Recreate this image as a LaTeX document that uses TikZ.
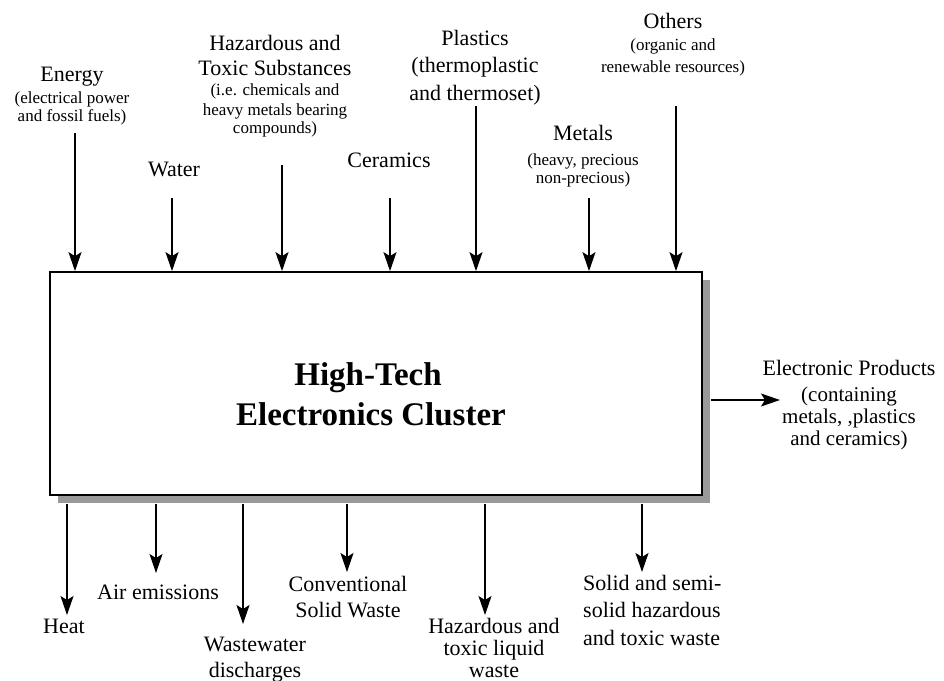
\documentclass[tikz,border=0pt]{standalone}
\usepackage{fontspec}
\setmainfont{Liberation Serif}
\usetikzlibrary{arrows.meta,shadows}
\begin{document}
\begin{tikzpicture}[x=1pt,y=-1pt,
  arr/.style={line width=1.4pt,-{Stealth[length=19pt,width=13pt,inset=4pt]}},
  big/.style={font=\fontsize{22}{25}\selectfont, inner sep=0pt, anchor=base},
  mid/.style={font=\fontsize{21}{23}\selectfont, inner sep=0pt, anchor=base},
  sml/.style={font=\fontsize{17}{19}\selectfont, inner sep=0pt, anchor=base},
  ttl/.style={font=\fontsize{33}{38}\selectfont\bfseries, inner sep=0pt, anchor=base},
  boxst/.style={draw, line width=1.7pt, fill=white, minimum width=652pt, minimum height=223pt, inner sep=0pt,
    general shadow={shadow xshift=8pt, shadow yshift=-8pt, fill=black!40, opacity=1}}
]
\fill[white] (0,0) rectangle (944,680);
\useasboundingbox (0,0) rectangle (944,680);

% main box
\node[boxst] (box) at (376,383.5) {};
\node[ttl] (t1) at (368,385) {High-Tech};
\node[ttl] (t2) at (371,425) {Electronics Cluster};

% top labels
\node[big] (en1) at (72,81) {Energy};
\node[sml] (en2) at (72,103) {(electrical power};
\node[sml] (en3) at (72,121) {and fossil fuels)};
\node[big] (hz1) at (275,50) {Hazardous and};
\node[big] (hz2) at (275,75) {Toxic Substances};
\node[sml] (hz3) at (275,95) {(i.e. chemicals and};
\node[sml] (hz4) at (275,115) {heavy metals bearing};
\node[sml] (hz5) at (275,133) {compounds)};
\node[big] (wa) at (174,176) {Water};
\node[big] (ce) at (389,167) {Ceramics};
\node[big] (pl1) at (475,45) {Plastics};
\node[big] (pl2) at (475,72) {(thermoplastic};
\node[big] (pl3) at (475,100) {and thermoset)};
\node[big] (ot1) at (673,28) {Others};
\node[sml] (ot2) at (673,50) {(organic and};
\node[sml] (ot3) at (673,72) {renewable resources)};
\node[big] (me1) at (583,140) {Metals};
\node[sml] (me2) at (583,165) {(heavy, precious};
\node[sml] (me3) at (583,183) {non-precious)};

% top arrow starts
\coordinate (eS) at (75,133);
\coordinate (wS) at (172,198);
\coordinate (hS) at (282,165);
\coordinate (cS) at (390,198);
\coordinate (pS) at (476,106);
\coordinate (mS) at (589,198);
\coordinate (oS) at (676,106);
\foreach \c in {eS,wS,hS,cS,pS,mS,oS}
  \draw[arr] (\c) -- (\c |- box.north);

% right output
\node[big] (ep1) at (849,375) {Electronic Products};
\node[mid] (ep2) at (849,401) {(containing};
\node[mid] (ep3) at (849,423) {metals, ,plastics};
\node[mid] (ep4) at (849,445) {and ceramics)};
\coordinate (epA) at (780,400);
\draw[arr] (box.east |- epA) ++(8,0) -- (epA);

% bottom arrows
\coordinate (hE) at (67,615);
\coordinate (aE) at (156,573);
\coordinate (wE) at (243,624);
\coordinate (cE) at (347,572);
\coordinate (lE) at (485,615);
\coordinate (sE) at (642,572);
\foreach \c in {hE,aE,wE,cE,lE,sE}
  \draw[arr] (\c |- box.south) ++(0,8) -- (\c);

% bottom labels
\node[big] (he) at (64,633) {Heat};
\node[big] (ae) at (158,599) {Air emissions};
\node[big] (ww1) at (255,651) {Wastewater};
\node[big] (ww2) at (255,677) {discharges};
\node[big] (cs1) at (348,591) {Conventional};
\node[big] (cs2) at (348,617) {Solid Waste};
\node[big] (hl1) at (494,633) {Hazardous and};
\node[big] (hl2) at (494,655) {toxic liquid};
\node[big] (hl3) at (494,677) {waste};
\node[big, anchor=base west] (sw1) at (583,590) {Solid and semi-};
\node[big, anchor=base west] (sw2) at (583,617) {solid hazardous};
\node[big, anchor=base west] (sw3) at (583,645) {and toxic waste};
\end{tikzpicture}
\end{document}
